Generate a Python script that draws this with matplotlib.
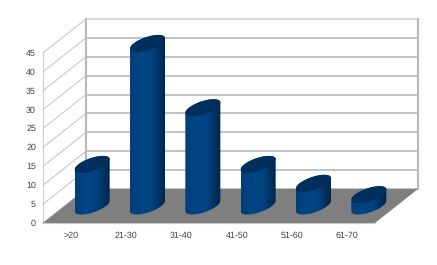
#!/usr/bin/env python3
import numpy as np
import matplotlib
matplotlib.use('Agg')
import matplotlib.pyplot as plt
from matplotlib.colors import LinearSegmentedColormap
from matplotlib.patches import Polygon

plt.rcParams['font.family'] = ['Liberation Sans', 'DejaVu Sans']
plt.rcParams['text.hinting'] = 'no_hinting'

categories = ['>20', '21-30', '31-40', '41-50', '51-60', '61-70']
values = [11, 43, 26, 11, 6, 3]
y_ticks = [0, 5, 10, 15, 20, 25, 30, 35, 40, 45]

#Oblique projection, all in image pixels
x0, y0 = 43.0, 223.0
slot = 55.33
unit = 18.9 / 5
dx, dy = 43.0, -34.0


def proj(cat, val, depth=0.0):
    return x0 + cat * slot + depth * dx, y0 - val * unit + depth * dy


fig = plt.figure(figsize=(4.37, 2.65), dpi=100)
ax = fig.add_axes([0, 0, 1, 1])
ax.set_xlim(0, 437)
ax.set_ylim(265, 0)
ax.axis('off')

n = len(categories)
top = y_ticks[-1]

#Walls and grid
for v in y_ticks:
    xa, ya = proj(0, v)
    xb, yb = proj(0, v, 1)
    xc, yc = proj(n, v, 1)
    ax.plot([xa, xb], [ya, yb], color='#c8c8c8', lw=0.8, zorder=1)
    ax.plot([xb, xc], [yb, yc], color='#d4d4d4' if v == top else '#b8b8b8', lw=1.2, zorder=1)
    ax.text(xa - 7, ya + 0.5, str(v), ha='right', va='center', fontsize=6.4, color='#404040')

for cat, depth, col, lw in [(0, 0, '#cccccc', 0.8), (0, 1, '#b8b8b8', 1.5), (n, 1, '#b8b8b8', 1.5)]:
    xa, ya = proj(cat, 0, depth)
    xb, yb = proj(cat, top, depth)
    ax.plot([xa, xb], [ya, yb], color=col, lw=lw, zorder=1)

#Floor
floor = [proj(0, 0), proj(0, 0, 1), proj(n, 0, 1), proj(n, 0)]
ax.add_patch(Polygon(floor, closed=True, fc='#7f7f7f', ec='none', zorder=2))
xa, ya = proj(0, 0)
xb, yb = proj(n, 0)
ax.plot([xa, xb], [ya, yb], color='#cccccc', lw=0.8, zorder=3)

#Bars
cmap = LinearSegmentedColormap.from_list(
    'cyl', [(0, '#003f78'), (0.3, '#004586'), (0.62, '#00427f'), (0.85, '#002f5c'), (1, '#00264c')])
t = np.linspace(0, 2 * np.pi, 121)
half_w = 0.25
half_d = 0.25

for i, val in enumerate(values):
    cx = i + 0.5
    bx, by = proj(cx + half_w * np.cos(t), 0, 0.5 + half_d * np.sin(t))
    tx, ty = proj(cx + half_w * np.cos(t), val, 0.5 + half_d * np.sin(t))

    #Silhouette: hull of top and bottom ellipse
    left = bx.min()
    right = bx.max()
    lower = by > (by[np.argmin(bx)] + (bx - left) / (right - left) * (by[np.argmax(bx)] - by[np.argmin(bx)]))
    low_x, low_y = bx[lower], by[lower]
    order = np.argsort(low_x)
    up_x, up_y = tx[~lower], ty[~lower]
    order2 = np.argsort(up_x)[::-1]
    body = np.column_stack([np.r_[low_x[order], up_x[order2]], np.r_[low_y[order], up_y[order2]]])
    patch = Polygon(body, closed=True, fc='none', ec='none', zorder=4)
    ax.add_patch(patch)
    im = ax.imshow(np.linspace(0, 1, 64).reshape(1, -1), cmap=cmap, aspect='auto',
                   extent=[left, right, by.max() + 1, ty.min() - 1], zorder=4, interpolation='bilinear')
    im.set_clip_path(patch)
    ax.add_patch(Polygon(np.column_stack([tx, ty]), closed=True, fc='#002f5e', ec='none', zorder=5))

ax.set_xlim(0, 437)
ax.set_ylim(265, 0)

#Category labels
for i, lab in enumerate(categories):
    xa, ya = proj(i + 0.5, 0)
    ax.text(xa, ya + 13, lab, ha='center', va='center', fontsize=6.4, color='#404040')

plt.savefig('out.png', dpi=100)
